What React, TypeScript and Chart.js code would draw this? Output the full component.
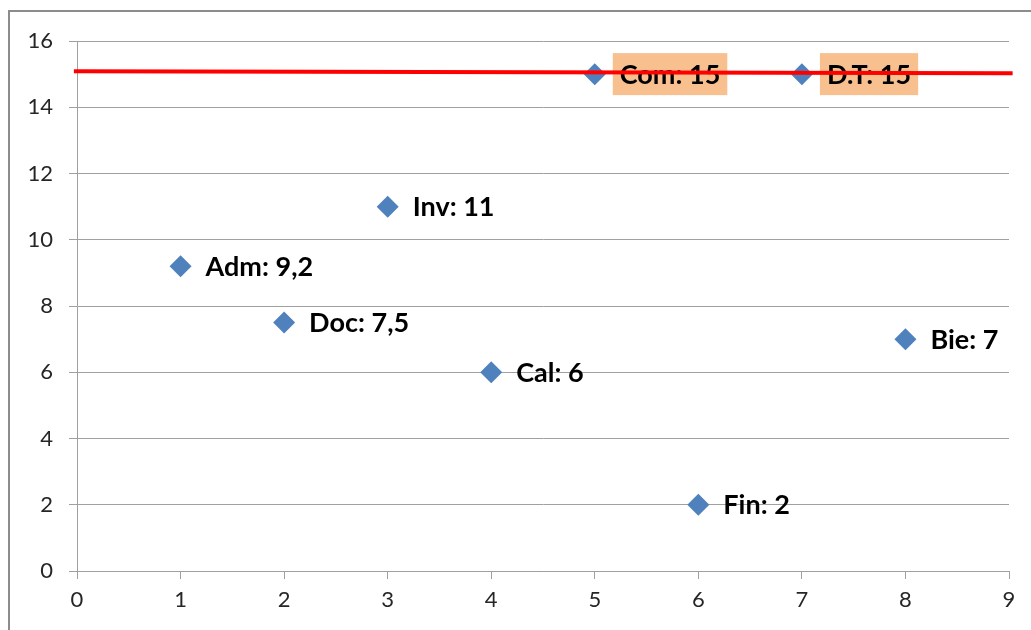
import React, { useEffect, useRef } from 'react';
import { Chart, registerables } from 'chart.js';

Chart.register(...registerables);

// ---- data ----
const categories = ['Adm', 'Doc', 'Inv', 'Cal', 'Com', 'Fin', 'D.T', 'Bie'];
const xValues = [1, 2, 3, 4, 5, 6, 7, 8];
const yValues = [9.2, 7.5, 11, 6, 15, 2, 15, 7];
const highlighted = ['Com', 'D.T'];
const refLineX = [-0.03, 9.035];
const refLineY = [15.09, 15.03];
const xMin = 0;
const xMax = 9;
const yMin = 0;
const yMax = 16;
const yStep = 2;

const FONT = 'Lato, "Liberation Sans", sans-serif';

const fmt = (v: number) => String(v).replace('.', ',');

const labelPlugin = {
  id: 'pointLabels',
  afterDatasetDraw(chart: any, args: any) {
    if (args.meta.type !== 'scatter') return;
    const ctx = chart.ctx;
    ctx.save();
    ctx.font = `bold 27px ${FONT}`;
    ctx.textBaseline = 'middle';
    ctx.textAlign = 'left';
    const xs = chart.scales.x;
    const ys = chart.scales.y;
    categories.forEach((c, i) => {
      const px = xs.getPixelForValue(xValues[i]);
      const py = ys.getPixelForValue(yValues[i]);
      const text = `${c}: ${fmt(yValues[i])}`;
      const tx = px + 25;
      if (highlighted.includes(c)) {
        const w = ctx.measureText(text).width;
        ctx.fillStyle = '#F9C08F';
        ctx.fillRect(px + 18, py - 21, w + 14, 42);
      }
      ctx.fillStyle = '#000000';
      ctx.fillText(text, tx, py + 1);
    });
    ctx.restore();
  },
};

const borderPlugin = {
  id: 'outerBorder',
  beforeDraw(chart: any) {
    const ctx = chart.ctx;
    ctx.save();
    ctx.fillStyle = '#ffffff';
    ctx.fillRect(0, 0, chart.width, chart.height);
    ctx.strokeStyle = '#8c8c8c';
    ctx.lineWidth = 2;
    ctx.strokeRect(9, 11, chart.width + 50, chart.height + 50);
    ctx.restore();
  },
};

export default function App() {
  const canvasRef = useRef<HTMLCanvasElement | null>(null);

  useEffect(() => {
    if (!canvasRef.current) return;
    const chart = new Chart(canvasRef.current, {
      type: 'scatter',
      data: {
        datasets: [
          {
            type: 'line',
            label: 'ref',
            data: refLineX.map((x, i) => ({ x, y: refLineY[i] })),
            borderColor: '#FF0000',
            borderWidth: 4,
            pointRadius: 0,
            fill: false,
            clip: false as any,
            order: 0,
          },
          {
            type: 'scatter',
            label: 'values',
            data: xValues.map((x, i) => ({ x, y: yValues[i] })),
            pointStyle: 'rectRot',
            pointRadius: 11,
            pointHoverRadius: 11,
            backgroundColor: '#4F81BD',
            borderColor: '#4F81BD',
            borderWidth: 0,
            order: 1,
          },
        ],
      },
      options: {
        animation: false,
        responsive: true,
        maintainAspectRatio: false,
        events: [],
        layout: { padding: { top: 41, right: 22, left: 0, bottom: 0 } },
        plugins: {
          legend: { display: false },
          tooltip: { enabled: false },
        },
        scales: {
          x: {
            type: 'linear',
            min: xMin,
            max: xMax,
            afterFit: (s: any) => {
              s.height = 59;
            },
            ticks: {
              stepSize: 1,
              padding: 8,
              color: '#262626',
              font: { family: FONT, size: 22 },
            },
            grid: {
              drawOnChartArea: false,
              drawTicks: true,
              tickLength: 8,
              color: '#A0A0A0',
              lineWidth: 1,
            },
            border: { display: true, color: '#A0A0A0', width: 1 },
          },
          y: {
            type: 'linear',
            min: yMin,
            max: yMax,
            afterFit: (s: any) => {
              s.width = 77;
            },
            ticks: {
              stepSize: yStep,
              padding: 16,
              color: '#262626',
              font: { family: FONT, size: 22 },
            },
            grid: {
              drawOnChartArea: true,
              drawTicks: true,
              tickLength: 8,
              color: '#A0A0A0',
              lineWidth: 1,
            },
            border: { display: true, color: '#A0A0A0', width: 1 },
          },
        },
      },
      plugins: [borderPlugin, labelPlugin],
    } as any);
    return () => chart.destroy();
  }, []);

  return (
    <div style={{ position: 'fixed', left: 0, top: 0, width: 1031, height: 630 }}>
      <canvas ref={canvasRef} />
    </div>
  );
}
